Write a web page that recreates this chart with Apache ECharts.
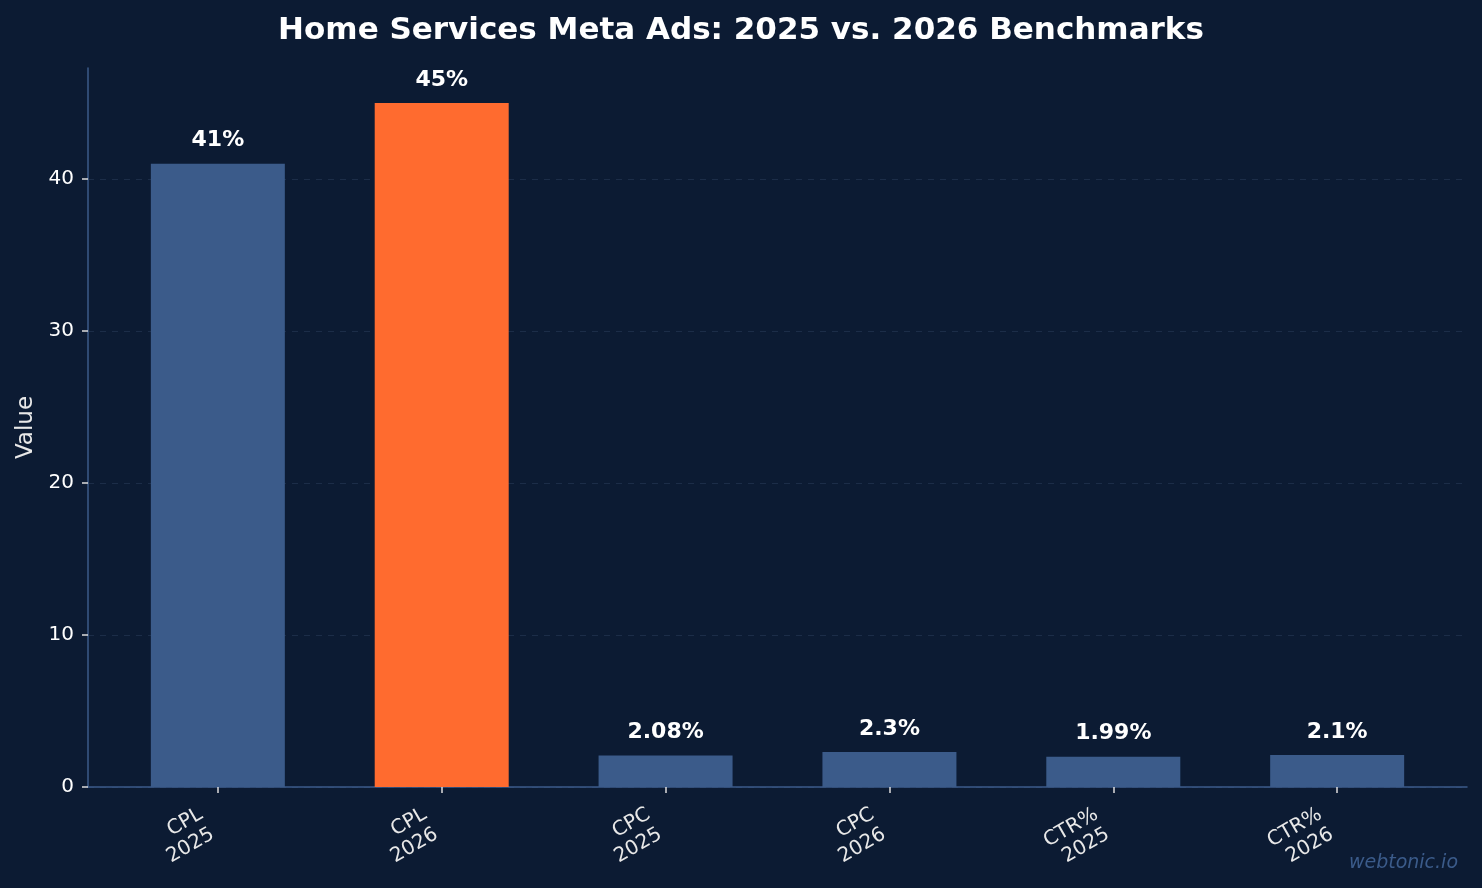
<!DOCTYPE html>
<html>
<head>
<meta charset="utf-8">
<script src="https://cdn.jsdelivr.net/npm/echarts@6/dist/echarts.min.js"></script>
<style>
	html, body { margin: 0; padding: 0; background: #0c1b33; }
	#chart { width: 1482px; height: 888px; }
</style>
</head>
<body>
<div id="chart"></div>
<script>
	// 数据
	var categories = ['CPL\n2025', 'CPL\n2026', 'CPC\n2025', 'CPC\n2026', 'CTR%\n2025', 'CTR%\n2026'];
	var values = [41, 45, 2.08, 2.3, 1.99, 2.1];
	var barColors = ['#3b5b8a', '#ff6b2f', '#3b5b8a', '#3b5b8a', '#3b5b8a', '#3b5b8a'];
	var yTicks = [0, 10, 20, 30, 40];

	var chart = echarts.init(document.getElementById('chart'));
	var idx = categories.map(function (c, i) { return i; });
	var font = 'DejaVu Sans';

	var option = {
		backgroundColor: '#0c1b33',
		title: {
			text: 'Home Services Meta Ads: 2025 vs. 2026 Benchmarks',
			left: 'center',
			top: 10,
			textStyle: { color: '#ffffff', fontSize: 31, fontWeight: 'bold', fontFamily: font }
		},
		graphic: [{
			type: 'text',
			right: 24,
			top: 854,
			style: {
				text: 'webtonic.io',
				fill: '#3b5b8a',
				font: 'italic 19px "DejaVu Sans"'
			}
		}],
		grid: { left: 88, right: 15, top: 68, bottom: 101 },
		xAxis: {
			type: 'value',
			min: -0.58,
			max: 5.58,
			axisLine: { show: true, onZero: false, lineStyle: { color: '#3b5b8a', width: 1.5 } },
			axisTick: { show: true, length: 6, customValues: idx, lineStyle: { color: '#dddddd', width: 1.5 } },
			splitLine: { show: false },
			axisLabel: {
				customValues: idx,
				rotate: 30,
				margin: 3,
				color: '#e8e8e8',
				fontSize: 20,
				fontFamily: font,
				lineHeight: 23,
				verticalAlign: 'top',
				padding: [0, 26, 0, 0],
				formatter: function (v) { return categories[Math.round(v)]; }
			}
		},
		yAxis: {
			type: 'value',
			min: 0,
			max: 47.3,
			interval: 10,
			name: 'Value',
			nameLocation: 'middle',
			nameGap: 50,
			nameTextStyle: { color: '#e8e8e8', fontSize: 23, fontFamily: font },
			axisLine: { show: true, onZero: false, lineStyle: { color: '#3b5b8a', width: 1.5 } },
			axisTick: { show: true, length: 6, customValues: yTicks, lineStyle: { color: '#dddddd', width: 1.5 } },
			axisLabel: { customValues: yTicks, color: '#ffffff', fontSize: 20, fontFamily: font, margin: 14 },
			splitLine: { show: true, lineStyle: { color: '#1c2d48', type: [6, 6], width: 1 } }
		},
		series: [{
			type: 'bar',
			barWidth: 134,
			data: values.map(function (v, i) {
				return { value: [i, v], itemStyle: { color: barColors[i] } };
			}),
			label: {
				show: true,
				position: 'top',
				distance: 12,
				color: '#ffffff',
				fontSize: 22,
				fontWeight: 'bold',
				fontFamily: font,
				formatter: function (p) { return p.value[1] + '%'; }
			}
		}]
	};
	chart.setOption(option);
</script>
</body>
</html>
